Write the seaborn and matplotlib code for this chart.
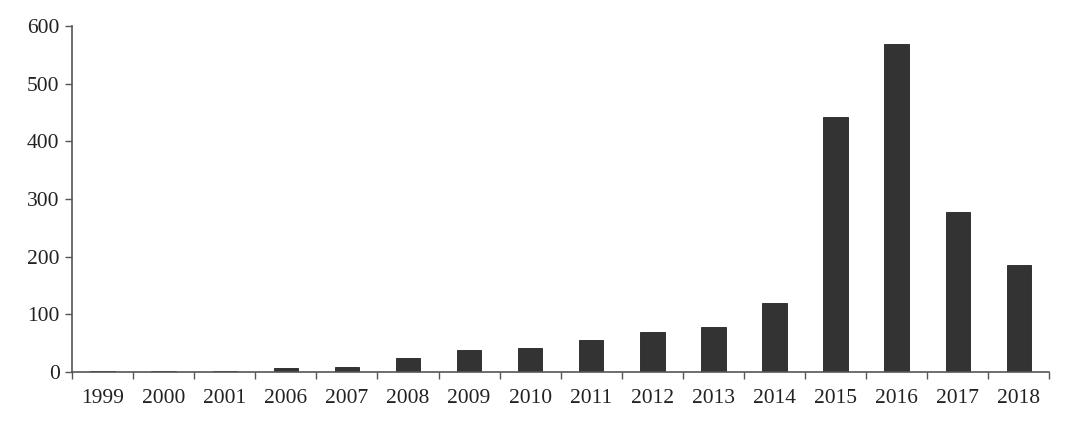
import numpy as np
import pandas as pd
import seaborn as sns
import matplotlib
matplotlib.use('Agg')
import matplotlib.pyplot as plt
from matplotlib.ticker import FixedLocator

# data
years = ['1999', '2000', '2001', '2006', '2007', '2008', '2009', '2010',
         '2011', '2012', '2013', '2014', '2015', '2016', '2017', '2018']
counts = [1, 1, 1, 6, 9, 24, 38, 41, 55, 70, 78, 119, 442, 568, 278, 185]

data = pd.DataFrame({'year': years, 'count': counts})

sns.set_style('white')
plt.rcParams['font.family'] = ['Liberation Serif', 'DejaVu Serif']

fig = plt.figure(figsize=(10.8, 4.32), dpi=100)
ax = fig.add_axes([0.0667, 0.139, 0.905, 0.801])

sns.barplot(ax=ax, data=data, x='year', y='count', color='#333333',
            saturation=1, width=0.4, edgecolor='#222222', linewidth=0.6)

ax.set_xlim(-0.5, len(years) - 0.5)
ax.set_ylim(0, 600)
ax.set_yticks(range(0, 601, 100))
ax.set_xlabel('')
ax.set_ylabel('')

# ticks between the categories on x
ax.xaxis.set_minor_locator(FixedLocator(np.arange(-0.5, len(years), 1)))
ax.tick_params(axis='x', which='major', length=0, labelsize=15.5, pad=12, colors='#222222')
ax.tick_params(axis='x', which='minor', length=5, width=1, color='#555555', direction='out')
ax.tick_params(axis='y', length=5, width=1, color='#555555', direction='out',
               labelsize=15.5, pad=4, colors='#222222')
ax.tick_params(axis='both', bottom=True, left=True)
ax.xaxis.set_tick_params(which='minor', bottom=True)

for side in ['top', 'right']:
    ax.spines[side].set_visible(False)
for side in ['left', 'bottom']:
    ax.spines[side].set_color('#555555')
    ax.spines[side].set_linewidth(1.2)

fig.savefig('out.png', dpi=100)
